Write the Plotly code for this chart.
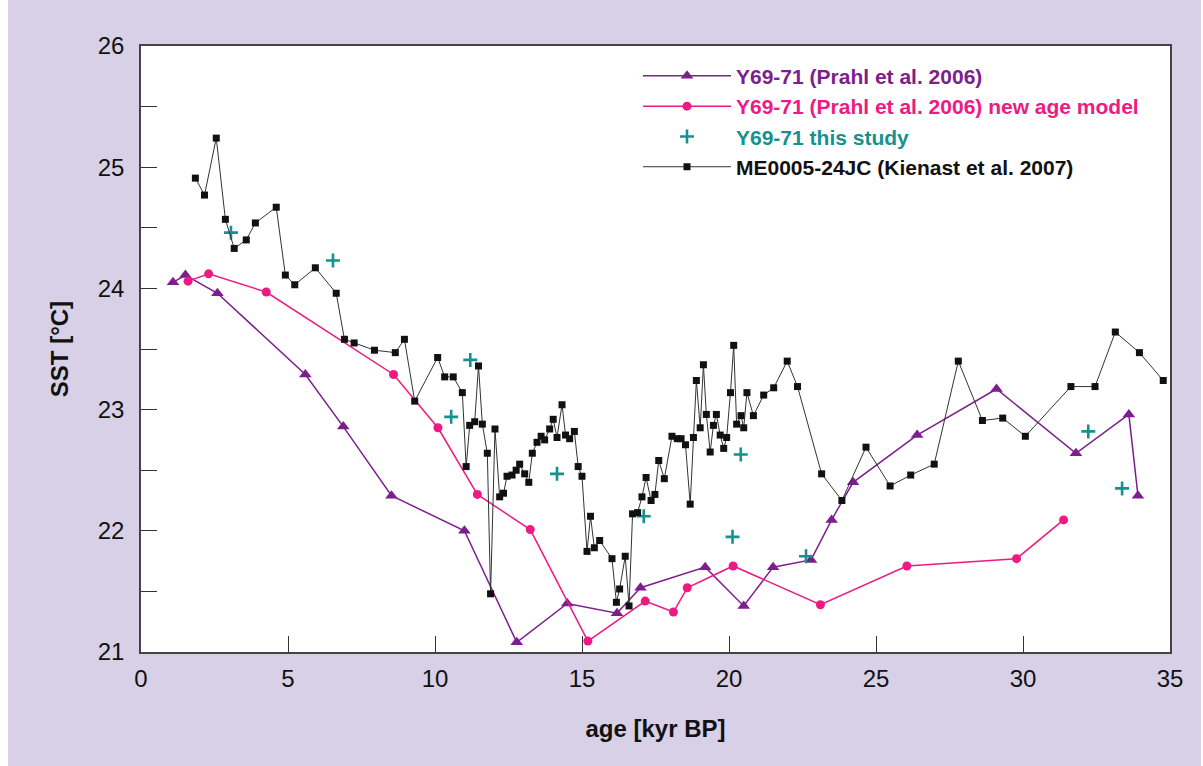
import plotly.graph_objects as go

# --- data ---
me_age = [1.85, 2.16, 2.56, 2.87, 3.17, 3.58, 3.89, 4.60, 4.91, 5.23, 5.93, 6.64, 6.92, 7.25, 7.94,
          8.65, 8.96, 9.31, 10.09, 10.33, 10.62, 10.93, 11.06, 11.18, 11.35, 11.48, 11.61, 11.78,
          11.89, 12.04, 12.20, 12.33, 12.45, 12.62, 12.76, 12.88, 13.05, 13.19, 13.31, 13.47, 13.61,
          13.73, 13.90, 14.02, 14.15, 14.32, 14.44, 14.58, 14.74, 14.87, 15.00, 15.17, 15.29, 15.42,
          15.60, 16.02, 16.17, 16.28, 16.47, 16.60, 16.72, 16.89, 17.04, 17.18, 17.35, 17.48, 17.61,
          17.80, 18.06, 18.24, 18.37, 18.52, 18.68, 18.79, 18.89, 19.02, 19.13, 19.23, 19.36, 19.47,
          19.57, 19.70, 19.82, 19.92, 20.05, 20.16, 20.26, 20.41, 20.50, 20.61, 20.83, 21.18, 21.52,
          21.98, 22.33, 23.15, 23.84, 24.66, 25.48, 26.18, 26.98, 27.80, 28.62, 29.31, 30.08, 31.63,
          32.45, 33.14, 33.96, 34.77]
me_sst = [24.91, 24.77, 25.24, 24.57, 24.33, 24.40, 24.54, 24.67, 24.11, 24.03, 24.17, 23.96, 23.58,
          23.55, 23.49, 23.47, 23.58, 23.07, 23.43, 23.27, 23.27, 23.14, 22.53, 22.87, 22.90, 23.36,
          22.88, 22.64, 21.48, 22.84, 22.28, 22.31, 22.45, 22.46, 22.50, 22.55, 22.47, 22.40, 22.64,
          22.73, 22.78, 22.75, 22.84, 22.92, 22.77, 23.04, 22.79, 22.76, 22.82, 22.53, 22.45, 21.83,
          22.12, 21.86, 21.92, 21.77, 21.41, 21.52, 21.79, 21.38, 22.14, 22.15, 22.28, 22.44, 22.25,
          22.30, 22.58, 22.43, 22.78, 22.76, 22.76, 22.71, 22.22, 22.77, 23.24, 22.85, 23.37, 22.96,
          22.65, 22.87, 22.96, 22.79, 22.68, 22.77, 23.14, 23.53, 22.88, 22.95, 22.85, 23.14, 22.95,
          23.12, 23.18, 23.40, 23.19, 22.47, 22.25, 22.69, 22.37, 22.46, 22.55, 23.40, 22.91, 22.93,
          22.78, 23.19, 23.19, 23.64, 23.47, 23.24]

prahl_age = [1.09, 1.51, 2.60, 5.59, 6.88, 8.52, 11.00, 12.78, 14.50, 16.19, 16.99, 19.19, 20.50,
             21.50, 22.79, 23.49, 24.22, 26.40, 29.10, 31.80, 33.60, 33.91]
prahl_sst = [24.05, 24.11, 23.96, 23.29, 22.86, 22.29, 22.00, 21.08, 21.40, 21.32, 21.53, 21.70, 21.38,
             21.70, 21.76, 22.09, 22.40, 22.79, 23.17, 22.64, 22.96, 22.29]

newage_age = [1.60, 2.30, 4.26, 8.59, 10.10, 11.44, 13.24, 15.20, 17.15, 18.11, 18.58, 20.14, 23.11,
              26.05, 29.78, 31.38]
newage_sst = [24.06, 24.12, 23.97, 23.29, 22.85, 22.30, 22.01, 21.09, 21.42, 21.33, 21.53, 21.71, 21.39,
              21.71, 21.77, 22.09]

study_age = [3.06, 6.53, 10.55, 11.20, 14.15, 17.10, 20.12, 20.40, 22.62, 32.22, 33.37]
study_sst = [24.46, 24.23, 22.94, 23.41, 22.47, 22.12, 21.95, 22.63, 21.79, 22.82, 22.35]

names = ["Y69-71 (Prahl et al. 2006)",
         "Y69-71 (Prahl et al. 2006) new age model",
         "Y69-71 this study",
         "ME0005-24JC (Kienast et al. 2007)"]

PURPLE = "#7D1E8E"
PINK = "#EE1A84"
TEAL = "#17918F"
BLACK = "#111111"
LAV = "#D8D0E6"
legend_colors = [PURPLE, PINK, TEAL, BLACK]


def label(i):
    return f"<b><span style='color:{legend_colors[i]}'>{names[i]}</span></b>"


fig = go.Figure()
fig.add_trace(go.Scatter(x=prahl_age, y=prahl_sst, mode="lines+markers", name=label(0),
                         line=dict(color=PURPLE, width=1.5),
                         marker=dict(symbol="triangle-up", size=11, color=PURPLE)))
fig.add_trace(go.Scatter(x=newage_age, y=newage_sst, mode="lines+markers", name=label(1),
                         line=dict(color=PINK, width=1.5),
                         marker=dict(symbol="circle", size=9, color=PINK)))
fig.add_trace(go.Scatter(x=study_age, y=study_sst, mode="markers", name=label(2),
                         marker=dict(symbol="cross-thin", size=10, color=TEAL,
                                     line=dict(color=TEAL, width=2.6))))
fig.add_trace(go.Scatter(x=me_age, y=me_sst, mode="lines+markers", name=label(3),
                         line=dict(color="#333333", width=1),
                         marker=dict(symbol="square", size=7, color=BLACK)))

axis_common = dict(showline=True, linecolor="#444444", linewidth=1.5, mirror=True,
                   ticks="inside", ticklen=16, tickcolor="#333333", tickwidth=1,
                   showgrid=False, zeroline=False,
                   tickfont=dict(family="Liberation Sans, Arial", size=24, color="#111111"),
                   title_font=dict(family="Liberation Sans, Arial", size=24, color="#111111"))

fig.update_layout(
    width=1203, height=766,
    paper_bgcolor=LAV, plot_bgcolor="white",
    margin=dict(l=141, r=33, t=46, b=114),
    showlegend=True,
    legend=dict(x=0.483, y=0.984, xanchor="left", yanchor="top",
                bgcolor="rgba(0,0,0,0)", itemwidth=88, tracegroupgap=0,
                font=dict(family="Liberation Sans, Arial", size=21, color="#111111")),
    xaxis=dict(range=[0, 35], dtick=5, tick0=0,
               title=dict(text="<b>age [kyr BP]</b>", standoff=30),
               ticklabelstandoff=4, **axis_common),
    yaxis=dict(range=[21, 26], dtick=1, tick0=21,
               minor=dict(dtick=0.5, ticks="inside", ticklen=16, tickcolor="#333333"),
               title=dict(text="<b>SST [°C]</b>", standoff=22),
               ticklabelstandoff=10, **axis_common),
)

# white strips around the lavender panel
fig.add_shape(type="rect", xref="paper", yref="paper", x0=-141/1029 - 0.1, x1=(1203-141)/1029 + 0.1,
              y0=(766-46-6)/606, y1=(766-46)/606 + 0.1, fillcolor="white", line_width=0, layer="below")
fig.add_shape(type="rect", xref="paper", yref="paper", x0=-141/1029 - 0.1, x1=-133/1029,
              y0=-114/606 - 0.1, y1=(766-46)/606 + 0.1, fillcolor="white", line_width=0, layer="below")
fig.add_shape(type="rect", xref="paper", yref="paper", x0=(1201-141)/1029, x1=(1203-141)/1029 + 0.1,
              y0=-114/606 - 0.1, y1=(766-46)/606 + 0.1, fillcolor="white", line_width=0, layer="below")

fig.write_html("out.html")
